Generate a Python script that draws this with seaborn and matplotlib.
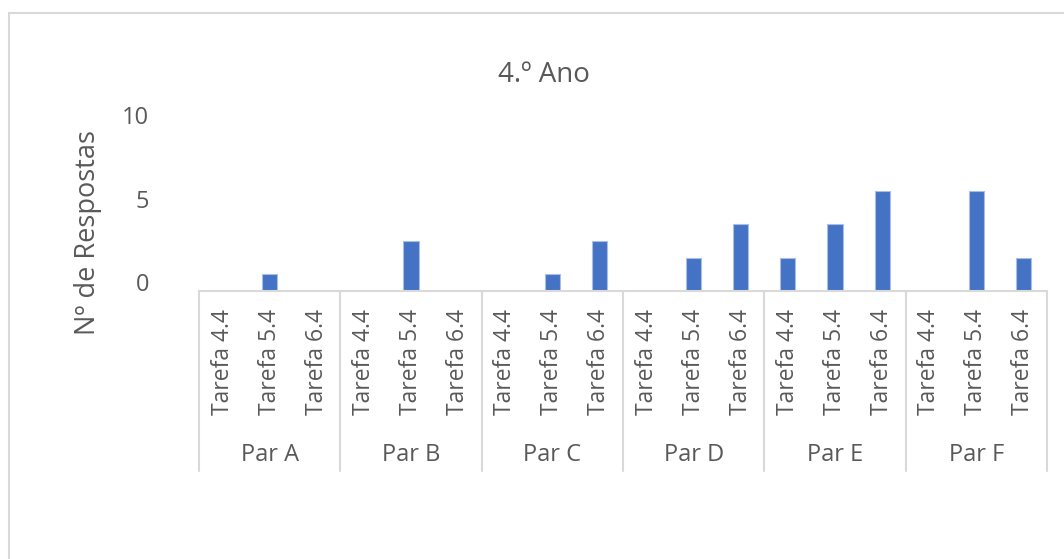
import matplotlib
matplotlib.use("Agg")
import matplotlib.pyplot as plt
import matplotlib.transforms as mtransforms
from matplotlib.lines import Line2D
import seaborn as sns
import pandas as pd

pares = ["Par A", "Par B", "Par C", "Par D", "Par E", "Par F"]
tarefas = ["Tarefa 4.4", "Tarefa 5.4", "Tarefa 6.4"]
valores = [
    0, 1, 0,   # Par A
    0, 3, 0,   # Par B
    0, 1, 3,   # Par C
    0, 2, 4,   # Par D
    2, 4, 6,   # Par E
    0, 6, 2,   # Par F
]
y_ticks = [0, 5, 10]
titulo = "4.º Ano"
y_label = "Nº de Respostas"

sns.set_theme(style="white")
plt.rcParams["font.family"] = ["Open Sans", "DejaVu Sans"]

TXT = "#595959"
GRID = "#d9d9d9"
BAR = "#4472C4"

df = pd.DataFrame({
    "pos": [f"{p}|{t}" for p in pares for t in tarefas],
    "par": [p for p in pares for t in tarefas],
    "tarefa": [t for p in pares for t in tarefas],
    "valor": valores,
})

W, H = 1064, 559
fig = plt.figure(figsize=(W / 100, H / 100), dpi=100)
fig.patch.set_facecolor("white")
ax = fig.add_axes([199 / W, 1 - 291 / H, (1047 - 199) / W, (291 - 124) / H])

sns.barplot(data=df, x="pos", y="valor", color=BAR, width=0.32, saturation=1,
            edgecolor="#a9bde6", linewidth=0.8, ax=ax, order=list(df["pos"]))

n = len(df)
ax.set_xlim(-0.5, n - 0.5)
ax.set_ylim(0, 10)
ax.set_yticks(y_ticks)
ax.set_yticklabels([str(v) for v in y_ticks], fontsize=17, color=TXT)
ax.set_xticks(range(n))
ax.set_xticklabels(df["tarefa"], rotation=90, fontsize=16.5, color=TXT)
ax.tick_params(axis="x", length=0, pad=13)
ax.tick_params(axis="y", length=0, pad=36)
for lab in ax.get_yticklabels():
    lab.set_transform(lab.get_transform() +
                      mtransforms.ScaledTranslation(0, 9 / 100, fig.dpi_scale_trans))
ax.set_xlabel("")
ax.set_ylabel("")
for s in ["top", "right", "left"]:
    ax.spines[s].set_visible(False)
ax.spines["bottom"].set_color(GRID)
ax.spines["bottom"].set_linewidth(1.5)
ax.grid(False)

# group separators and group labels
bt = mtransforms.blended_transform_factory(ax.transData, fig.transFigure)
for i in range(len(pares) + 1):
    xb = i * 3 - 0.5
    fig.add_artist(Line2D([xb, xb], [1 - 291 / H, 1 - 471 / H], transform=bt,
                          color=GRID, linewidth=1.5))
for i, p in enumerate(pares):
    fig.text(i * 3 + 1, 1 - 455 / H, p, transform=bt, ha="center", va="center",
             fontsize=17, color=TXT)

fig.text(544 / W, 1 - 75 / H, titulo, ha="center", va="center", fontsize=20, color=TXT)
fig.text(88 / W, 1 - 232 / H, y_label, ha="center", va="center", rotation=90,
         fontsize=19.5, color=TXT)

# chart frame (partially visible)
fig.add_artist(Line2D([9 / W, 9 / W], [1 - 13 / H, 0], transform=fig.transFigure,
                      color=GRID, linewidth=1.5))
fig.add_artist(Line2D([9 / W, 1], [1 - 13 / H, 1 - 13 / H], transform=fig.transFigure,
                      color=GRID, linewidth=1.5))

fig.savefig("out.png", dpi=100, facecolor="white")
